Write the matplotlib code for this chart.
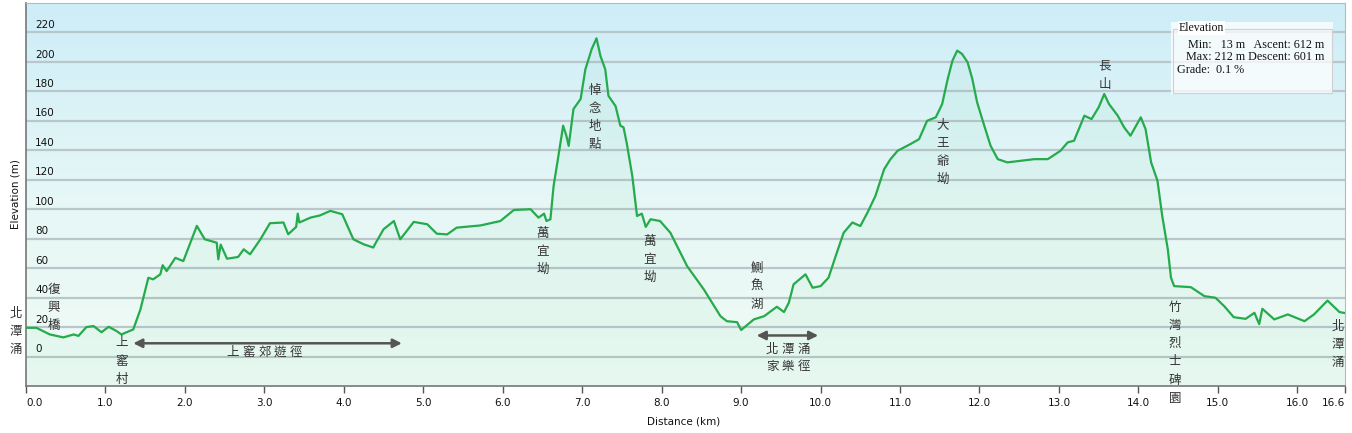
import numpy as np
import matplotlib
matplotlib.use("Agg")
import matplotlib.pyplot as plt
from matplotlib.colors import LinearSegmentedColormap
from matplotlib.patches import Rectangle

plt.rcParams['font.family'] = ['DejaVu Sans']
CJK = ['Noto Sans CJK TC', 'DejaVu Sans']

# ---------------- data ----------------
dist_km = [0.00, 0.13, 0.30, 0.47, 0.60, 0.66, 0.76, 0.85, 0.95, 1.04, 1.14, 1.20, 1.35,
           1.44, 1.54, 1.60, 1.69, 1.72, 1.77, 1.88, 1.98, 2.15, 2.25, 2.40, 2.42, 2.45,
           2.53, 2.67, 2.74, 2.82, 2.95, 3.07, 3.24, 3.30, 3.40, 3.42, 3.44, 3.58, 3.70,
           3.83, 3.98, 4.12, 4.25, 4.37, 4.40, 4.50, 4.63, 4.71, 4.88, 5.05, 5.17, 5.30,
           5.42, 5.72, 5.97, 6.14, 6.35, 6.45, 6.52, 6.55, 6.60, 6.64, 6.70, 6.76, 6.80,
           6.83, 6.89, 6.98, 7.04, 7.12, 7.18, 7.23, 7.29, 7.33, 7.42, 7.48, 7.52, 7.56,
           7.63, 7.69, 7.75, 7.80, 7.86, 7.98, 8.11, 8.32, 8.53, 8.74, 8.82, 8.95, 9.00,
           9.16, 9.29, 9.45, 9.54, 9.60, 9.66, 9.81, 9.90, 10.00, 10.10, 10.19, 10.29,
           10.40, 10.50, 10.59, 10.69, 10.80, 10.88, 10.97, 11.13, 11.24, 11.34, 11.45,
           11.53, 11.60, 11.66, 11.72, 11.78, 11.85, 11.91, 11.97, 12.06, 12.14, 12.23,
           12.35, 12.52, 12.69, 12.86, 13.02, 13.11, 13.19, 13.32, 13.41, 13.50, 13.57,
           13.63, 13.74, 13.82, 13.90, 14.03, 14.09, 14.16, 14.24, 14.30, 14.37, 14.41,
           14.45, 14.66, 14.83, 14.97, 15.08, 15.20, 15.35, 15.46, 15.52, 15.56, 15.71,
           15.88, 16.09, 16.21, 16.38, 16.53, 16.60]
elev_m = [19.5, 19.5, 15, 13, 15, 14, 20, 20.7, 16.5, 20.2, 17.3, 15, 18.4,
          32, 53.5, 52.4, 55.8, 62, 58, 67, 64.8, 88.7, 79.6, 77.3, 66, 76,
          66.4, 67.6, 72.8, 69.4, 79.6, 90.5, 91, 83, 88, 97, 91, 94.3, 95.8,
          98.9, 96.6, 79.6, 76.2, 74, 77, 86.4, 92, 79.6, 91.4, 89.8, 83.4, 82.9,
          87.5, 89, 92, 99.5, 100, 94.3, 97, 92, 93.2, 115.8, 136, 156.7, 150,
          143, 168, 174.8, 195, 208.8, 216, 204, 195, 177, 170, 156.7, 155.6, 145,
          122.7, 95.4, 97, 88, 93.2, 92, 84, 61.4, 45.6, 27.4, 24, 23.3, 18,
          25.2, 27.4, 33.8, 30.2, 36.5, 49, 55.8, 46.7, 47.8, 53.5, 68.2, 84,
          91, 88.6, 97.7, 109, 127.2, 134, 139.7, 144.2, 147.6, 160, 162.4,
          171.4, 188.4, 200.9, 207.7, 205.4, 199.8, 188.4, 172.6, 156.7, 143, 134,
          131.8, 132.9, 134, 134, 139.7, 145.4, 146.5, 163.5, 161.2, 169.2, 178.2,
          171.4, 163.5, 155.6, 149.9, 162.4, 154.4, 131.8, 119.3, 95.4, 72.8, 53.5,
          47.8, 47.1, 41, 39.9, 34.2, 26.7, 25.6, 29.7, 22, 32.4, 25.2,
          28.6, 24, 28.6, 38, 30.2, 29.5]

y_ticks = list(range(0, 221, 20))
x_ticks = [float(i) for i in range(17)] + [16.6]

# vertical place names: text, km, elevation of first character
places = [
    ("北潭涌", -0.126, 29.5),
    ("復興橋", 0.352, 45.8),
    ("上窰村", 1.204, 9.2),
    ("萬宜坳", 6.503, 83.8),
    ("悼念地點", 7.161, 180.9),
    ("萬宜坳", 7.853, 78.4),
    ("鰂魚湖", 9.196, 60.1),
    ("大王爺坳", 11.537, 157.2),
    ("長山", 13.579, 197.2),
    ("竹灣烈士碑園", 14.46, 33.6),
    ("北潭涌", 16.511, 20.7),
]
# trail sections: start km, end km, arrow elevation, label lines, label centre km, label elevation
trails = [
    (1.35, 4.73, 9.0, ["上窰郊遊徑"], 3.0, 2.6),
    (9.196, 9.97, 14.3, ["北潭涌", "家樂徑"], 9.59, 5.1),
]

# ---------------- figure ----------------
fig = plt.figure(figsize=(13.52, 4.33), dpi=100)
ax = fig.add_axes([26 / 1352, 47 / 433, 1319 / 1352, 383 / 433])
ax.set_xlim(0, 16.6)
ax.set_ylim(-20, 240)

bg = LinearSegmentedColormap.from_list("bg", ["#f0fbf5", "#e6f7f6", "#cdedf8"])
ax.imshow(np.linspace(0, 1, 256).reshape(-1, 1), cmap=bg, aspect='auto',
          extent=[0, 16.6, -20, 240], origin='lower', zorder=0)

for v in y_ticks:
    ax.axhline(v, color='#b9c6ca', lw=1.6, zorder=1)
    ax.text(9 / 1319, v + 5, str(v), transform=ax.get_yaxis_transform(),
            fontsize=7.5, color='#111', ha='left', va='center', zorder=5)

ax.fill_between(dist_km, elev_m, -20, color='#3cc36e', alpha=0.05, lw=0, zorder=2)
ax.plot(dist_km, elev_m, color='#25aa4c', lw=1.6, zorder=3)

ax.set_yticks([])
ax.set_xticks(x_ticks)
labels = ax.set_xticklabels(['%.1f' % t for t in x_ticks], fontsize=7.5, color='#111')
labels[0].set_ha('left')
labels[-1].set_ha('right')
ax.tick_params(axis='x', length=5, width=1, color='#555', pad=4)
for s in ['top', 'right']:
    ax.spines[s].set_color('#b8b8b8')
for s in ['left', 'bottom']:
    ax.spines[s].set_color('#777')
    ax.spines[s].set_linewidth(1.2)

ax.text(-10 / 1319, 0.5, 'Elevation (m)', transform=ax.transAxes, rotation=90,
        fontsize=7.5, ha='center', va='center', color='#111')
fig.text(684 / 1352, 1 - 421 / 433, 'Distance (km)', fontsize=7.5, ha='center',
         va='center', color='#111')

# place names
for name, xk, ytop in places:
    for i, ch in enumerate(name):
        ax.text(xk, ytop - i * 12.4, ch, family=CJK, fontsize=9, color='#333',
                ha='center', va='center', zorder=6, clip_on=False)

# trails
for x0, x1, ya, lines, xc, yl in trails:
    ax.annotate('', xy=(x1, ya), xytext=(x0, ya),
                arrowprops=dict(arrowstyle='<|-|>', color='#555', lw=1.8,
                                mutation_scale=13, shrinkA=0, shrinkB=0), zorder=6)
    for j, line in enumerate(lines):
        n = len(line)
        for i, ch in enumerate(line):
            ax.text(xc + (i - (n - 1) / 2) * 0.2, yl - j * 12.2, ch, family=CJK,
                    fontsize=9, color='#333', ha='center', va='center', zorder=6)

# stats box
fig.patches.append(Rectangle((1171 / 1352, 1 - 94 / 433), 162 / 1352, 72 / 433,
                             transform=fig.transFigure, facecolor='white', alpha=0.75,
                             edgecolor='none', zorder=10))
fig.patches.append(Rectangle((1173 / 1352, 1 - 92.5 / 433), 159 / 1352, 63 / 433,
                             transform=fig.transFigure, facecolor='none',
                             edgecolor='#d0d0d0', lw=0.8, zorder=11))
serif = ['Liberation Serif', 'DejaVu Serif']
fig.text(1179 / 1352, 1 - 28 / 433, 'Elevation', family=serif, fontsize=8.5,
         va='center', ha='left', color='#111', zorder=12,
         bbox=dict(facecolor='white', edgecolor='none', pad=0.5))
stats = ["Min:   13 m   Ascent: 612 m", "Max: 212 m Descent: 601 m", "Grade:  0.1 %"]
stats_x = [1188, 1186, 1177]
for k, (txt, sx) in enumerate(zip(stats, stats_x)):
    fig.text(sx / 1352, 1 - (45 + k * 12.5) / 433, txt, family=serif, fontsize=8.75,
             va='center', ha='left', color='#111', zorder=12)

fig.savefig('out.png', dpi=100)
